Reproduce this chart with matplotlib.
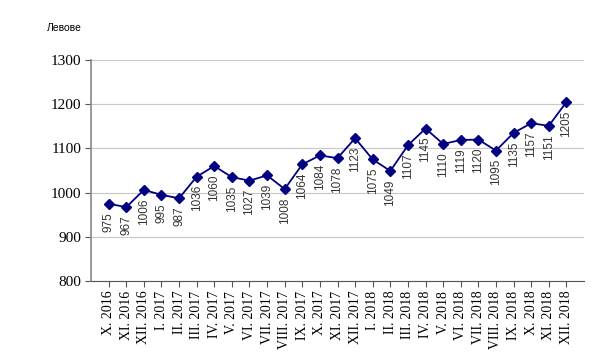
import matplotlib
matplotlib.use("Agg")
from matplotlib import pyplot as plt

months = [
    "X. 2016", "XI. 2016", "XII. 2016",
    "I. 2017", "II. 2017", "III. 2017", "IV. 2017", "V. 2017", "VI. 2017",
    "VII. 2017", "VIII. 2017", "IX. 2017", "X. 2017", "XI. 2017", "XII. 2017",
    "I. 2018", "II. 2018", "III. 2018", "IV. 2018", "V. 2018", "VI. 2018",
    "VII. 2018", "VIII. 2018", "IX. 2018", "X. 2018", "XI. 2018", "XII. 2018",
]
wages = [
    975, 967, 1006,
    995, 987, 1036, 1060, 1035, 1027, 1039, 1008, 1064, 1084, 1078, 1123,
    1075, 1049, 1107, 1145, 1110, 1119, 1120, 1095, 1135, 1157, 1151, 1205,
]
y_ticks = [800, 900, 1000, 1100, 1200, 1300]

NAVY = "#000080"

fig = plt.figure(figsize=(6, 3.59), dpi=100)
ax = fig.add_axes([91 / 600, 1 - 281 / 359, (584 - 91) / 600, (281 - 60) / 359])

x = list(range(len(wages)))
ax.plot(x, wages, color=NAVY, lw=1.3, marker="D", ms=5.5, zorder=3)

for xi, v in zip(x, wages):
    ax.annotate(str(v), (xi, v), xytext=(0, -6), textcoords="offset points",
                rotation=90, ha="center", va="top", fontsize=8.5,
                family="Liberation Sans", color="#333333")

ax.set_xlim(-1, len(wages))
ax.set_ylim(800, 1300)
ax.set_yticks(y_ticks)
ax.set_yticklabels([str(t) for t in y_ticks], family="Liberation Serif", fontsize=11)
ax.set_xticks(x)
ax.set_xticklabels(months, rotation=90, family="Liberation Serif", fontsize=10)

ax.grid(axis="y", color="#c8c8c8", lw=0.8)
ax.set_axisbelow(True)
for s in ["top", "right"]:
    ax.spines[s].set_visible(False)
ax.spines["left"].set_color("#888888")
ax.spines["left"].set_linewidth(1.2)
ax.spines["bottom"].set_color("#555555")
ax.tick_params(axis="both", length=4, color="#555555", pad=3)

fig.text(47 / 600, 1 - 28 / 359, "Левове", fontsize=7.5, family="Liberation Sans",
         va="center", ha="left")

fig.savefig("out.png", dpi=100)
